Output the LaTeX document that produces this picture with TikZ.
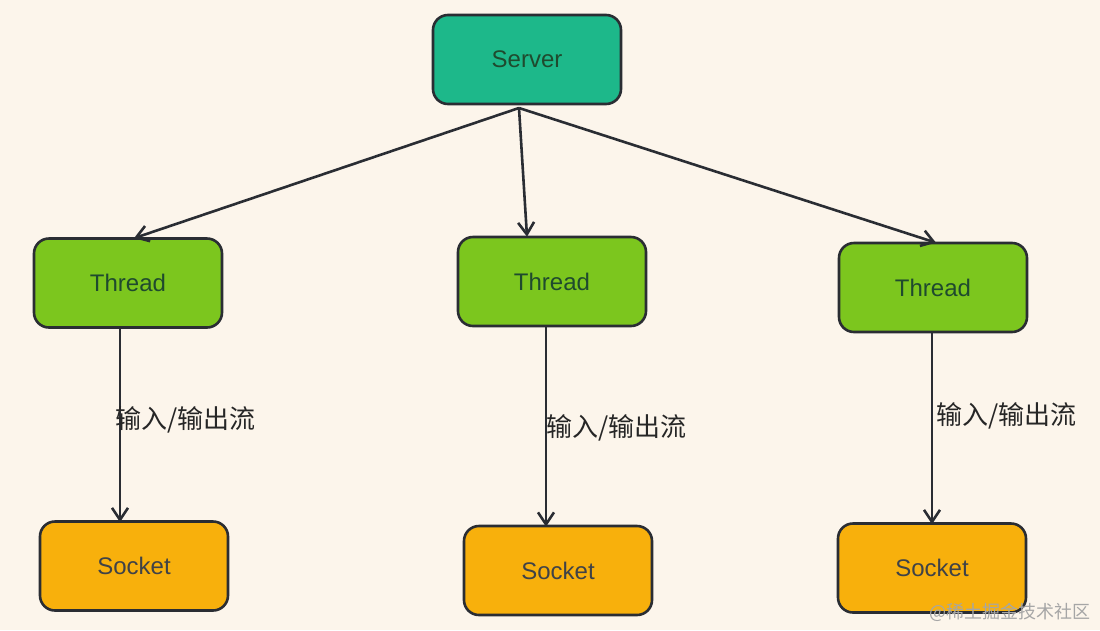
\documentclass[tikz,border=0pt]{standalone}
\usepackage{fontspec}
\setmainfont{Liberation Sans}
\newfontfamily\cjk{Noto Sans CJK SC}
\usetikzlibrary{arrows.meta}
\definecolor{bgc}{HTML}{FCF5EB}
\definecolor{serverc}{HTML}{1DB88A}
\definecolor{threadc}{HTML}{7CC61E}
\definecolor{socketc}{HTML}{F8B00C}
\definecolor{edgec}{HTML}{2A2D33}
\definecolor{txtg}{HTML}{1F4A2E}
\tikzset{
  x=1pt,y=-1pt,
  box/.style={draw=edgec, line width=2.6pt, rounded corners=15pt, minimum width=188pt, minimum height=89pt, font=\fontsize{24}{27}\selectfont},
  serverbox/.style={box, fill=serverc, text=txtg},
  threadbox/.style={box, fill=threadc, text=txtg},
  socketbox/.style={box, fill=socketc, text=edgec!90},
  conn/.style={draw=edgec, line width=2.6pt, -{Straight Barb[length=12pt,width=16pt,line width=2.6pt]}},
  lbl/.style={font=\cjk\fontsize{26}{29}\selectfont, text=black!85},
}
\begin{document}
\begin{tikzpicture}
\fill[bgc] (0,0) rectangle (1100,630);
\useasboundingbox (0,0) rectangle (1100,630);
\node[serverbox] (server) at (527,59.5) {Server};
\node[threadbox] (t1) at (128,283) {Thread};
\node[threadbox] (t2) at (552,281.5) {Thread};
\node[threadbox] (t3) at (933,287.5) {Thread};
\node[socketbox] (s1) at (134,566) {Socket};
\node[socketbox] (s2) at (558,570.5) {Socket};
\node[socketbox] (s3) at (932,568) {Socket};
\coordinate (sb) at (519,108);
\draw[conn] (sb) -- ([xshift=6pt,yshift=-1pt]t1.north);
\draw[conn] (sb) -- ([xshift=-25pt,yshift=-1pt]t2.north);
\draw[conn] (sb) -- ([xshift=3pt,yshift=-1pt]t3.north);
\draw[conn] ([xshift=-8pt]t1.south) -- ([xshift=-14pt,yshift=-2pt]s1.north);
\draw[conn] ([xshift=-6pt]t2.south) -- ([xshift=-12pt,yshift=-2pt]s2.north);
\draw[conn] ([xshift=-1pt]t3.south) -- ([xshift=0pt,yshift=-2pt]s3.north);
\node[lbl, anchor=west] (l1) at (112,420) {输入/输出流};
\node[lbl, anchor=west] (l2) at (543,428) {输入/输出流};
\node[lbl, anchor=west] (l3) at (933,416) {输入/输出流};
\node[font=\cjk\fontsize{18}{20}\selectfont, text=black!35, anchor=east] (wm) at (1094,612) {@稀土掘金技术社区};
\end{tikzpicture}
\end{document}
